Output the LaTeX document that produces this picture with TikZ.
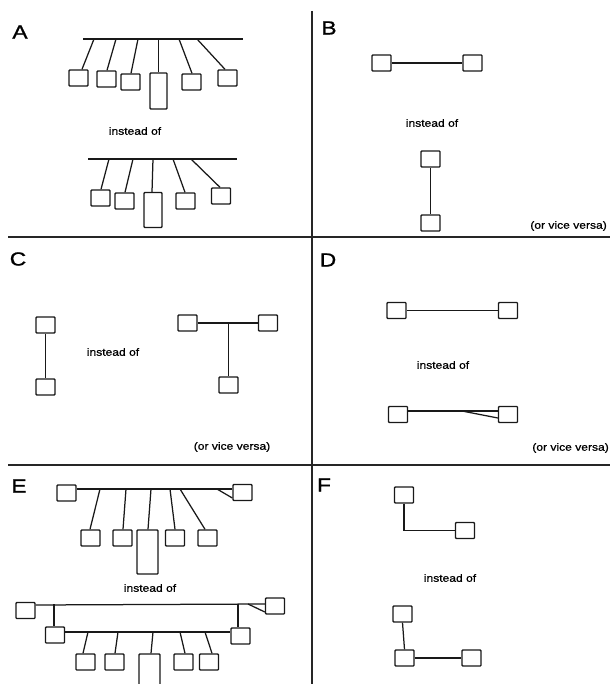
\documentclass[tikz,border=0pt]{standalone}
\usepackage{fontspec}
\setmainfont{Liberation Sans}
\newfontfamily\lblfont[FakeStretch=1.2,FakeBold=1.2]{Liberation Sans}
\newfontfamily\smfont[FakeStretch=1.15,FakeBold=0.8]{Liberation Sans}
\usetikzlibrary{calc}
\begin{document}
\begin{tikzpicture}[x=1pt,y=-1pt,
  ln/.style={line width=1.25pt, draw=black!90},
  bx/.style={draw=black!90, line width=1.35pt, minimum width=19pt, minimum height=16pt, inner sep=0pt, rounded corners=0.8pt},
  tallbx/.style={bx, minimum width=18pt, minimum height=35pt},
  lbl/.style={font=\lblfont\fontsize{19}{19}\selectfont, inner sep=0pt},
  txt/.style={font=\smfont\fontsize{10.5}{12}\selectfont, inner sep=0pt},
  div/.style={line width=1.4pt, draw=black!85}]
\useasboundingbox (0,0) rectangle (610,684);
% ---------- dividers
\coordinate (h1l) at (8,237); \coordinate (h1r) at (610,237);
\coordinate (h2l) at (8,465); \coordinate (h2r) at (610,465);
\coordinate (vt) at (312,11); \coordinate (vb) at (312,684);
\draw[div] (h1l) -- (h1r);
\draw[div] (h2l) -- (h2r);
\draw[div] (vt) -- (vb);
% ---------- panel A
\node[lbl] (labA) at (20,32) {A};
\coordinate (abusl) at (83,39); \coordinate (abusr) at (243,39);
\draw[ln] (abusl) -- (abusr);
\node[bx] (A1) at (78.5,78) {};
\node[bx] (A2) at (106.5,79) {};
\node[bx] (A3) at (130.5,82) {};
\node[tallbx, minimum width=17pt, minimum height=36pt] (A4) at (158.5,91) {};
\node[bx] (A5) at (191.5,82) {};
\node[bx] (A6) at (227.5,78) {};
\coordinate (ta1) at (94,39); \coordinate (ta2) at (116,39); \coordinate (ta3) at (138,39);
\coordinate (ta4) at (158.5,39); \coordinate (ta5) at (179,39); \coordinate (ta6) at (197,39);
\draw[ln] (ta1) -- ([xshift=3.5pt]A1.north);
\draw[ln] (ta2) -- ([xshift=0.5pt]A2.north);
\draw[ln] (ta3) -- ([xshift=0.5pt]A3.north);
\draw[ln] (ta4) -- (A4.north);
\draw[ln] (ta5) -- ([xshift=0.5pt]A5.north);
\draw[ln] (ta6) -- ([xshift=-2.5pt]A6.north);
\node[txt] (insA) at (135,131) {instead of};
\coordinate (abus2l) at (88,159); \coordinate (abus2r) at (237,159);
\draw[ln] (abus2l) -- (abus2r);
\node[bx] (A7) at (100.5,198) {};
\node[bx] (A8) at (124.5,201) {};
\node[tallbx] (A9) at (153,210) {};
\node[bx] (A10) at (185.5,201) {};
\node[bx] (A11) at (221,196) {};
\coordinate (tb1) at (109,159); \coordinate (tb2) at (133,159); \coordinate (tb3) at (153,159);
\coordinate (tb4) at (173,159); \coordinate (tb5) at (191,159);
\draw[ln] (tb1) -- ([xshift=0.5pt]A7.north);
\draw[ln] (tb2) -- ([xshift=0.5pt]A8.north);
\draw[ln] (tb3) -- ([xshift=-1pt]A9.north);
\draw[ln] (tb4) -- ([xshift=-0.5pt]A10.north);
\draw[ln] (tb5) -- ([xshift=-1pt]A11.north);
% ---------- panel B
\node[lbl] (labB) at (329,28) {B};
\node[bx] (BL) at (381.5,63) {};
\node[bx] (BR) at (472.5,63) {};
\draw[ln] (BL) -- (BR);
\node[txt] (insB) at (432,123) {instead of};
\node[bx] (BT) at (430.5,159) {};
\node[bx] (BB) at (430.5,223) {};
\draw[ln] (BT) -- (BB);
\node[txt, anchor=east] (vvB) at (607,226) {(or vice versa)};
% ---------- panel C
\node[lbl] (labC) at (18,259) {C};
\node[bx] (CT) at (45.5,325) {};
\node[bx] (CB) at (45.5,387) {};
\draw[ln] (CT) -- (CB);
\node[txt] (insC) at (113,352) {instead of};
\node[bx] (TL) at (187.5,323) {};
\node[bx] (TR) at (268,323) {};
\node[bx] (TB) at (228.5,385) {};
\draw[ln] (TL) -- (TR);
\coordinate (tj) at (228.5,323);
\draw[ln] (tj) -- (TB.north);
\node[txt] (vvC) at (232,447) {(or vice versa)};
% ---------- panel D
\node[lbl] (labD) at (328,260) {D};
\node[bx] (DTL) at (396.5,310.5) {};
\node[bx] (DTR) at (508,310.5) {};
\draw[ln] (DTL) -- (DTR);
\node[txt] (insD) at (443,365) {instead of};
\node[bx] (DBL) at (398,414.5) {};
\node[bx] (DBR) at (508,414.5) {};
\coordinate (dw) at (462,411);
\draw[ln] ([yshift=3.5pt]DBL.east) -- ([yshift=3.5pt]DBR.west);
\draw[ln] (dw) -- ([yshift=-3.5pt]DBR.west);
\node[txt, anchor=east] (vvD) at (609,448) {(or vice versa)};
% ---------- panel E
\node[lbl] (labE) at (19,486) {E};
\node[bx] (ETL) at (66.5,493) {};
\node[bx] (ETR) at (242.5,492.5) {};
\draw[ln] ([yshift=4pt]ETL.east) -- ([yshift=3.5pt]ETR.west);
\coordinate (ew) at (217,489);
\draw[ln] (ew) -- ([yshift=-5.5pt]ETR.west);
\node[bx] (E1) at (90.5,538) {};
\node[bx] (E2) at (122.5,538) {};
\node[tallbx, minimum width=21pt, minimum height=44pt] (E3) at (147.5,552) {};
\node[bx] (E4) at (175,538) {};
\node[bx] (E5) at (207.5,538) {};
\coordinate (te1) at (100,489); \coordinate (te2) at (126,489); \coordinate (te3) at (151,489);
\coordinate (te4) at (170,489); \coordinate (te5) at (180,489);
\draw[ln] (te1) -- ([xshift=-0.5pt]E1.north);
\draw[ln] (te2) -- ([xshift=0.5pt]E2.north);
\draw[ln] (te3) -- ([xshift=0.5pt]E3.north);
\draw[ln] (te4) -- (E4.north);
\draw[ln] (te5) -- ([xshift=-2.5pt]E5.north);
\node[txt] (insE) at (150,588) {instead of};
\node[bx] (EL) at (25.5,610.5) {};
\node[bx] (ER) at (275,606) {};
\draw[ln] ([yshift=5.5pt]EL.east) -- ([yshift=2pt]ER.west);
\coordinate (ew2) at (248,604);
\draw[ln] (ew2) -- ([yshift=-6pt]ER.west);
\node[bx] (EML) at (55,635) {};
\node[bx] (EMR) at (240.5,636) {};
\coordinate (ed1) at (54,604); \coordinate (ed2) at (238,604);
\draw[ln] (ed1) -- ([xshift=-1pt]EML.north);
\draw[ln] (ed2) -- ([xshift=-2.5pt]EMR.north);
\draw[ln] ([yshift=3pt]EML.east) -- ([yshift=4pt]EMR.west);
\node[bx] (E6) at (85.5,662) {};
\node[bx] (E7) at (114.5,662) {};
\node[tallbx, minimum width=21pt, minimum height=52pt] (E8) at (149.5,680) {};
\node[bx] (E9) at (183.5,662) {};
\node[bx] (E10) at (209,662) {};
\coordinate (tm1) at (88,632); \coordinate (tm2) at (118,632); \coordinate (tm3) at (153,632);
\coordinate (tm4) at (180,632); \coordinate (tm5) at (205,632);
\draw[ln] (tm1) -- ([xshift=-2.5pt]E6.north);
\draw[ln] (tm2) -- ([xshift=0.5pt]E7.north);
\draw[ln] (tm3) -- ([xshift=1.5pt]E8.north);
\draw[ln] (tm4) -- ([xshift=1.5pt]E9.north);
\draw[ln] (tm5) -- ([xshift=3pt]E10.north);
% ---------- panel F
\node[lbl] (labF) at (324,485) {F};
\node[bx] (FA) at (404,495) {};
\node[bx] (FB) at (465,530.5) {};
\coordinate (fc) at (404,530.5);
\draw[ln] (FA.south) -- (fc) -- (FB.west);
\node[txt] (insF) at (450,578) {instead of};
\node[bx] (FC) at (402.5,614) {};
\node[bx] (FD) at (404.5,658) {};
\node[bx] (FE) at (471.5,658) {};
\draw[ln] (FC.south) -- (FD.north);
\draw[ln] (FD.east) -- (FE.west);
\end{tikzpicture}
\end{document}
